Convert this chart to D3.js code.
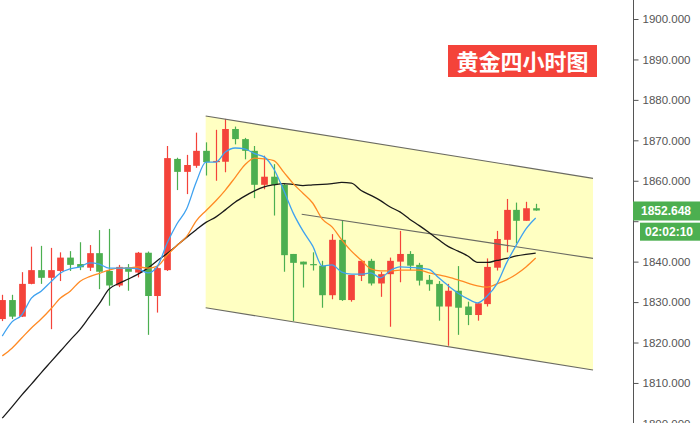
<!DOCTYPE html>
<html>
<head>
<meta charset="utf-8">
<script src="https://cdn.jsdelivr.net/npm/d3@7/dist/d3.min.js"></script>
<style>
  html, body { margin: 0; padding: 0; background: #fff; }
  svg { display: block; }
</style>
</head>
<body>
<svg id="chart" width="700" height="423"></svg>
<script>
// ---- Data ----
const opens  = [1825.8,1830.5,1826.4,1834.5,1837.9,1836.0,1837.7,1841.0,1839.4,1838.5,1842.1,1837.7,1834.1,1838.6,1837.3,1842.2,1831.5,1837.9,1865.4,1862.2,1863.7,1867.4,1864.6,1864.7,1872.8,1870.3,1867.4,1859.0,1861.0,1859.0,1841.9,1840.0,1839.4,1839.0,1831.7,1845.4,1830.5,1836.5,1840.2,1834.6,1836.9,1840.0,1841.9,1839.2,1835.5,1834.5,1828.9,1832.8,1828.9,1826.8,1829.5,1838.5,1845.4,1852.8,1850.1,1853.2];
const highs  = [1831.8,1831.8,1837.4,1843.7,1843.9,1843.4,1842.3,1842.6,1844.8,1844.1,1847.8,1848.1,1839.2,1839.4,1842.4,1842.5,1839.0,1868.6,1865.7,1866.4,1871.9,1869.5,1872.6,1875.3,1873.4,1870.6,1868.6,1866.2,1864.1,1859.4,1841.9,1840.0,1842.3,1840.2,1846.8,1850.3,1836.7,1840.2,1840.7,1837.5,1841.0,1847.6,1842.6,1839.7,1836.7,1835.2,1834.5,1838.9,1830.1,1829.7,1840.8,1847.6,1855.5,1854.6,1854.8,1854.3];
const lows   = [1825.3,1825.8,1826.3,1834.4,1834.5,1823.3,1835.2,1837.7,1837.9,1837.7,1833.2,1829.1,1833.7,1832.8,1836.1,1821.9,1827.4,1837.7,1857.7,1856.7,1863.2,1861.3,1860.0,1862.1,1869.0,1865.3,1855.7,1857.9,1851.4,1837.5,1825.3,1833.6,1837.8,1828.6,1830.7,1830.3,1830.1,1835.2,1834.1,1831.3,1823.9,1834.9,1837.9,1834.1,1832.8,1825.4,1819.2,1821.9,1824.3,1825.4,1828.9,1837.8,1842.3,1844.5,1850.1,1852.6];
const closes = [1830.5,1826.4,1834.5,1837.9,1836.0,1837.9,1841.0,1839.2,1838.6,1842.1,1837.5,1834.1,1838.7,1837.5,1842.2,1831.5,1838.4,1865.6,1862.2,1863.9,1867.4,1864.6,1864.9,1872.8,1870.3,1867.4,1859.0,1861.0,1859.0,1841.6,1839.7,1839.3,1839.2,1831.7,1845.4,1830.5,1836.7,1840.2,1834.6,1836.9,1840.2,1841.9,1839.0,1835.3,1834.4,1828.9,1832.8,1828.6,1826.8,1829.7,1838.7,1845.6,1852.8,1850.1,1853.2,1852.648];

// moving-average lines as drawn on the chart
const maShort = [1821.6,1825.1,1826.8,1831.0,1832.7,1835.0,1837.2,1838.2,1838.7,1839.7,1839.4,1838.4,1838.4,1838.4,1838.2,1837.2,1838.9,1844.6,1849.3,1853.0,1859.7,1864.6,1864.6,1867.1,1868.1,1867.9,1866.7,1865.9,1862.9,1857.7,1852.0,1847.6,1843.9,1838.9,1839.2,1837.4,1836.9,1836.9,1837.2,1836.0,1837.8,1838.7,1838.6,1838.4,1838.1,1836.0,1834.0,1832.2,1830.8,1829.8,1831.5,1834.5,1839.7,1844.1,1848.1,1850.8];
const maMid   = [1816.7,1818.6,1821.1,1823.6,1825.8,1828.3,1831.0,1832.7,1835.1,1836.3,1837.1,1837.9,1838.4,1838.4,1838.7,1838.4,1838.9,1841.6,1844.0,1846.2,1850.1,1852.6,1855.0,1857.7,1860.8,1863.9,1865.6,1865.4,1865.0,1862.2,1859.3,1856.9,1854.5,1850.5,1848.6,1845.4,1842.6,1840.4,1838.2,1837.7,1837.7,1837.9,1837.9,1837.9,1837.2,1836.7,1836.2,1835.5,1834.7,1834.0,1833.7,1834.5,1835.5,1836.9,1838.7,1840.9];
const maLong  = [1801.3,1804.1,1807.0,1809.7,1812.5,1815.2,1817.9,1820.6,1823.2,1826.4,1829.6,1833.2,1834.6,1835.7,1836.9,1838.4,1840.3,1842.0,1844.0,1846.0,1847.9,1849.7,1851.0,1852.8,1854.7,1856.2,1857.5,1858.5,1859.0,1859.3,1859.1,1858.8,1859.0,1859.1,1859.3,1859.6,1859.4,1857.6,1856.4,1855.1,1853.5,1852.3,1850.5,1848.9,1847.2,1845.4,1843.7,1842.6,1841.4,1839.8,1839.8,1840.3,1840.8,1841.4,1841.8,1842.1];

// drawn channel (index, price)
const channelTop    = [[20.97, 1876.0], [60.91, 1860.6]];
const channelBottom = [[20.97, 1828.6], [60.91, 1813.2]];
const channelMid    = [[30.87, 1851.7], [60.91, 1840.8]];

const yTicks = [1800,1810,1820,1830,1840,1850,1860,1870,1880,1890,1900];
const hiddenTick = 1850; // covered by the last-price badge
const lastPrice = 1852.648;
const countdown = "02:02:10";
const title = "黄金四小时图";

// ---- Layout ----
const svg = d3.select("#chart");
const axisX = 633;
const n = closes.length;
const x = d3.scaleLinear().domain([0, n - 1]).range([2.3, 535.7]);
const y = d3.scaleLinear().domain([1800, 1900]).range([423.4, 19]);
const bodyW = 6.7;

const UP = "#f4433a", DOWN = "#4caf50";

// channel fill
const poly = [channelTop[0], channelTop[1], channelBottom[1], channelBottom[0]];
svg.append("polygon")
  .attr("points", poly.map(p => [x(p[0]), y(p[1])].join(",")).join(" "))
  .attr("fill", "#ffffc2");

// candles
const g = svg.append("g");
const idx = d3.range(n);
g.selectAll("line.wick").data(idx).join("line")
  .attr("class", "wick")
  .attr("x1", i => Math.round(x(i)) + 0.5).attr("x2", i => Math.round(x(i)) + 0.5)
  .attr("y1", i => y(highs[i])).attr("y2", i => y(lows[i]))
  .attr("stroke", i => closes[i] >= opens[i] ? UP : DOWN)
  .attr("stroke-width", 1.2);
g.selectAll("rect.body").data(idx).join("rect")
  .attr("class", "body")
  .attr("x", i => Math.round(x(i)) + 0.5 - bodyW / 2)
  .attr("width", bodyW)
  .attr("y", i => y(Math.max(opens[i], closes[i])))
  .attr("height", i => Math.max(1.2, Math.abs(y(opens[i]) - y(closes[i]))))
  .attr("fill", i => closes[i] >= opens[i] ? UP : DOWN);

// channel lines
const seg = d3.line().x(p => x(p[0])).y(p => y(p[1]));
[channelTop, channelBottom, channelMid].forEach(c => {
  svg.append("path").attr("d", seg(c))
    .attr("fill", "none").attr("stroke", "#6b6b62").attr("stroke-width", 1.1);
});

// moving averages
const maLine = d3.line().x((d, i) => x(i)).y(d => y(d)).curve(d3.curveMonotoneX);
[[maLong, "#1a1a1a"], [maMid, "#ff8a24"], [maShort, "#3fa2f0"]].forEach(([arr, col]) => {
  svg.append("path").attr("d", maLine(arr))
    .attr("fill", "none").attr("stroke", col).attr("stroke-width", 1.3);
});

// right axis
svg.append("rect").attr("x", axisX).attr("y", 0).attr("width", 700 - axisX).attr("height", 423).attr("fill", "#fff");
const fmt = d3.format(".3f");
const axis = d3.axisRight(y).tickValues(yTicks)
  .tickFormat(d => d === hiddenTick ? "" : fmt(d)).tickSize(5).tickPadding(4);
const ag = svg.append("g").attr("transform", `translate(${axisX + 0.5},0)`).call(axis);
ag.select(".domain").attr("stroke", "#555").attr("d", "M0,0V423");
ag.selectAll(".tick line").attr("stroke", "#555");
ag.selectAll(".tick text").attr("fill", "#555")
  .style("font-family", "'Liberation Sans', Arial, sans-serif").style("font-size", "11.5px");

// last price label
const py = y(lastPrice);
svg.append("rect").attr("x", axisX).attr("y", py - 9).attr("width", 700 - axisX).attr("height", 19).attr("fill", "#4caf50");
svg.append("text").attr("x", 666).attr("y", py + 4.5).attr("text-anchor", "middle")
  .attr("fill", "#fff").style("font-family", "'Liberation Sans', Arial, sans-serif")
  .style("font-size", "12px").style("font-weight", "bold").text(fmt(lastPrice));
svg.append("rect").attr("x", 640).attr("y", py + 12.2).attr("width", 60).attr("height", 18).attr("fill", "#4caf50");
svg.append("text").attr("x", 669).attr("y", py + 25.5).attr("text-anchor", "middle")
  .attr("fill", "#fff").style("font-family", "'Liberation Sans', Arial, sans-serif")
  .style("font-size", "12px").style("font-weight", "bold").text(countdown);

// title badge
svg.append("rect").attr("x", 448).attr("y", 45).attr("width", 149).attr("height", 32).attr("fill", "#f4433a");
svg.append("text").attr("x", 522.5).attr("y", 69.5).attr("text-anchor", "middle")
  .attr("fill", "#fff").style("font-family", "'Noto Sans CJK SC', sans-serif")
  .style("font-size", "22px").style("font-weight", "bold").text(title);
</script>
</body>
</html>
